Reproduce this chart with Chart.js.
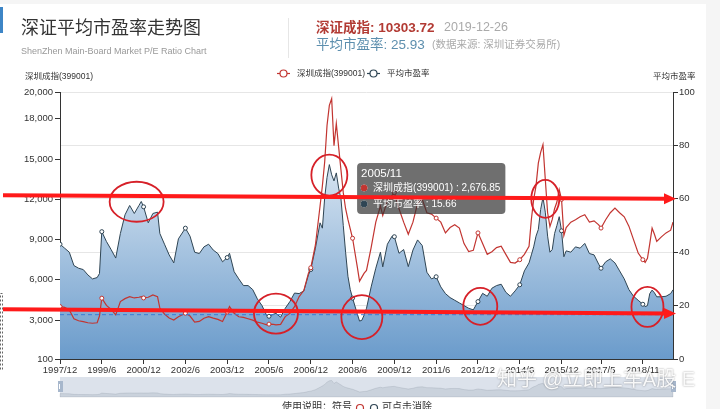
<!DOCTYPE html>
<html>
<head>
<meta charset="utf-8">
<title>深证平均市盈率走势图</title>
<style>
  html, body { margin: 0; padding: 0; background: #f5f5f5; }
  canvas { display: block; }
</style>
</head>
<body>
<canvas id="peChart" width="720" height="409"></canvas>
<script src="https://cdn.jsdelivr.net/npm/chart.js@4.4.1/dist/chart.umd.min.js"></script>
<script>
const dates = [
  '1997/12','1998/2','1998/4','1998/6','1998/8','1998/10','1998/12','1999/2','1999/4','1999/5','1999/6','1999/8','1999/10','1999/12',
  '2000/2','2000/4','2000/6','2000/8','2000/10','2000/11','2000/12','2001/2','2001/4','2001/6','2001/7','2001/9','2001/11',
  '2002/1','2002/3','2002/6','2002/8','2002/10','2002/12','2003/2','2003/4','2003/6','2003/8','2003/10','2003/12',
  '2004/1','2004/3','2004/5','2004/7','2004/9','2004/11','2005/1','2005/3','2005/5','2005/6','2005/8','2005/9','2005/11',
  '2006/1','2006/3','2006/5','2006/7','2006/9','2006/11','2006/12','2007/2','2007/4','2007/5','2007/6','2007/7','2007/8',
  '2007/9','2007/10','2007/11','2007/12','2008/1','2008/2','2008/3','2008/4','2008/5','2008/6','2008/8','2008/9','2008/10',
  '2008/11','2008/12','2009/2','2009/4','2009/6','2009/7','2009/9','2009/11','2009/12','2010/2','2010/4','2010/6','2010/8',
  '2010/10','2010/12','2011/2','2011/4','2011/6','2011/8','2011/10','2011/12','2012/2','2012/4','2012/6','2012/8','2012/10',
  '2012/12','2013/2','2013/4','2013/6','2013/8','2013/10','2013/12','2014/2','2014/4','2014/6','2014/8','2014/10','2014/11',
  '2014/12','2015/1','2015/2','2015/3','2015/4','2015/5','2015/6','2015/7','2015/8','2015/9','2015/10','2015/11','2015/12',
  '2016/1','2016/2','2016/4','2016/6','2016/8','2016/10','2016/12','2017/2','2017/4','2017/5','2017/7','2017/9','2017/11',
  '2018/1','2018/3','2018/5','2018/7','2018/9','2018/11','2018/12','2019/1','2019/2','2019/3','2019/4','2019/5','2019/7',
  '2019/9','2019/11','2019/12'
];

const szValues = [
  4006, 3950, 3760, 3100, 2950, 2880, 2800, 2765, 2800, 3300, 4633, 4100, 3800, 3386,
  4380, 4600, 4750, 4650, 4700, 4753, 4650, 4700, 4880, 4750, 3900, 3450, 3150,
  3000, 3250, 3511, 3300, 2850, 2900, 3138, 3260, 3150, 3050, 2889, 3600,
  4006, 3511, 3250, 3200, 3100, 3000, 2850, 2765, 2640, 2700, 2680, 2640, 2676.85,
  3260, 3500, 4000, 4753, 5200, 6500, 6900, 8600, 11500, 13000, 14800, 17500, 19000,
  19500, 16000, 17650, 15900, 14200, 12500, 11300, 10500, 9800, 9100, 7000, 5900, 6200,
  6500, 6700, 8400, 10300, 11500, 10800, 11900, 12300, 12500, 11300, 10300, 9400, 10300,
  11700, 12000, 11000, 10900, 10600, 10300, 9500, 9900, 10100, 9859, 8700, 8113, 8200,
  9500, 8700, 7900, 8100, 8400, 8500, 7900, 7300, 7250, 7500, 7900, 8500, 10500,
  12000, 13000, 14700, 15500, 16080, 13500, 11000, 9978, 10500, 11300, 11800, 12720, 12000,
  9300, 9900, 10300, 10480, 10700, 10850, 10300, 10400, 10100, 9859, 10479, 11000, 11352,
  11000, 10700, 10000, 9000, 8000, 7500, 7300, 7600, 8700, 9860, 9400, 8860, 9200,
  9500, 9700, 10303.72
];

const peValues = [
  43, 41.5, 40, 35, 34, 33.5, 31.5, 30, 30.5, 32, 47.7, 44, 41, 37.8,
  47, 54, 57.5, 54.5, 57.5, 59, 57, 51, 54.5, 55, 47, 43, 39,
  36, 45, 49, 46, 40, 39.5, 42, 43, 40.8, 39.5, 36.4, 38,
  39.6, 32.7, 30, 27.5, 27.5, 26, 22.5, 20, 16.3, 16, 16.8, 17.1, 15.66,
  19, 21.5, 24.7, 24.5, 25.5, 31.5, 33.5, 41.5, 51, 49, 60.5, 68, 72.8,
  69, 66.7, 69.7, 64, 60, 50, 40, 31, 26, 22.8, 17, 14.2, 14.5,
  16.5, 19, 27, 34, 40, 34.5, 43, 46, 45.8, 39.6, 41, 34.6, 40.8,
  44.6, 42.5, 32.5, 30, 30.8, 27, 24.5, 23, 22, 21, 20, 19, 18.4,
  21.5, 24.6, 23.5, 26.5, 27.5, 28, 25, 23.5, 25.5, 27.8, 33, 36, 39,
  42, 46, 48.5, 56, 60.5, 55, 46, 40, 41, 47, 50, 53.3, 48,
  38.3, 40.5, 40, 42, 41.5, 43.3, 39.5, 39, 35.5, 34, 36.4, 37.5, 36,
  33, 30, 26, 23.5, 22, 20.5, 19.6, 20, 24.5, 25.8, 24.8, 23.3, 23.3,
  23.5, 24.5, 25.93
];

const tickDates = ['1997/12','1999/6','2000/12','2002/6','2003/12','2005/6','2006/12','2008/6',
  '2009/12','2011/6','2012/12','2014/6','2015/12','2017/5','2018/11'];
const leftTicks = [100, 3000, 6000, 9000, 12000, 15000, 18000, 20000];
const rightTicks = [0, 20, 40, 60, 80, 100];

const tooltipDate = '2005/11';
const lastDate = '2019-12-26';
const peMarkLine = 16.6;

// hand drawn marks on the screenshot: [date, P/E, rx, ry]
const circleMarks = [
  ['2000/9', 58.9, 27, 20], ['2005/9', 17, 22, 20], ['2007/8', 68.9, 18, 20.5], ['2008/10', 15.7, 20.5, 22],
  ['2013/1', 19.7, 17, 18.5], ['2015/5', 60, 14, 19], ['2019/1', 19.5, 16, 20]
];
// [P/E at left end, P/E at arrow tip]
const arrowMarks = [[61.3, 60], [18.6, 17]];

const FONT = '"Liberation Sans", "Noto Sans CJK SC", sans-serif';
const RED = '#c23531';
const DARK = '#2f4554';

function monthIndex(d) {
  const [y, m] = d.split('/').map(Number);
  return (y - 1997) * 12 + m - 12;
}

const tickSet = new Set(tickDates);
const tipIndex = dates.indexOf(tooltipDate);

function legendItem(ctx, x, y, color, text) {
  ctx.strokeStyle = color;
  ctx.lineWidth = 1.2;
  ctx.beginPath(); ctx.moveTo(x, y); ctx.lineTo(x + 13, y); ctx.stroke();
  ctx.beginPath(); ctx.arc(x + 6.5, y, 3.5, 0, Math.PI * 2);
  ctx.fillStyle = '#fff'; ctx.fill(); ctx.stroke();
  ctx.fillStyle = '#333';
  ctx.font = '8.5px ' + FONT;
  ctx.textAlign = 'left';
  ctx.fillText(text, x + 20, y);
}

const decor = {
  id: 'decor',
  beforeDraw(chart) {
    const ctx = chart.ctx;
    ctx.save();
    ctx.fillStyle = '#f5f5f5';
    ctx.fillRect(0, 0, 720, 409);
    ctx.fillStyle = '#fff';
    ctx.fillRect(0, 4, 706, 405);
    ctx.fillStyle = '#3d85c6';
    ctx.fillRect(0, 7, 3, 26);
    ctx.setLineDash([2, 2]);
    ctx.strokeStyle = '#666';
    ctx.strokeRect(0.5, 293.5, 2, 76);
    ctx.setLineDash([]);

    ctx.textBaseline = 'middle';
    ctx.textAlign = 'left';
    ctx.fillStyle = '#333';
    ctx.font = '18px ' + FONT;
    ctx.fillText('深证平均市盈率走势图', 21, 29.5);
    ctx.fillStyle = '#999';
    ctx.font = '9px ' + FONT;
    ctx.fillText('ShenZhen Main-Board Market P/E Ratio Chart', 21, 51.5);

    ctx.strokeStyle = '#e6e6e6';
    ctx.lineWidth = 1;
    ctx.beginPath(); ctx.moveTo(288.5, 18); ctx.lineTo(288.5, 58); ctx.stroke();

    const lastSz = szValues[szValues.length - 1].toFixed(2);
    const lastPe = peValues[peValues.length - 1].toFixed(2);
    ctx.fillStyle = '#b23a33';
    ctx.font = 'bold 13.5px ' + FONT;
    ctx.fillText('深证成指: ' + lastSz, 316, 28);
    ctx.fillStyle = '#aaa';
    ctx.font = '12.5px ' + FONT;
    ctx.fillText(lastDate, 444, 28);
    ctx.fillStyle = '#5d8fae';
    ctx.font = '13.5px ' + FONT;
    ctx.fillText('平均市盈率: ' + lastPe, 316, 45);
    ctx.fillStyle = '#aaa';
    ctx.font = '10.5px ' + FONT;
    ctx.fillText('(数据来源: 深圳证券交易所)', 432, 45);

    legendItem(ctx, 277, 73.5, RED, '深圳成指(399001)');
    legendItem(ctx, 367, 73.5, DARK, '平均市盈率');

    ctx.fillStyle = '#333';
    ctx.font = '8.5px ' + FONT;
    ctx.fillText('深圳成指(399001)', 25, 77);
    ctx.fillText('平均市盈率', 653, 77);
    ctx.restore();
  },
  afterDatasetsDraw(chart) {
    const ctx = chart.ctx;
    const area = chart.chartArea;
    const y = chart.scales.y2.getPixelForValue(peMarkLine);
    ctx.save();
    ctx.strokeStyle = '#3a7bd5';
    ctx.lineWidth = 1;
    ctx.setLineDash([4, 3]);
    ctx.beginPath(); ctx.moveTo(area.left, y); ctx.lineTo(area.right, y); ctx.stroke();
    ctx.restore();
  },
  afterDraw(chart) {
    const ctx = chart.ctx;
    const xs = chart.scales.x;
    const ys = chart.scales.y2;
    const area = chart.chartArea;
    ctx.save();

    // data zoom slider with shadow of the index series
    const sTop = 377, sBot = 397;
    ctx.fillStyle = '#dce2eb';
    ctx.fillRect(area.left, sTop, area.right - area.left, sBot - sTop);
    ctx.beginPath();
    ctx.moveTo(xs.getPixelForValue(monthIndex(dates[0])), sBot);
    dates.forEach((d, i) => {
      ctx.lineTo(xs.getPixelForValue(monthIndex(d)), sBot - szValues[i] / 20000 * 17);
    });
    ctx.lineTo(xs.getPixelForValue(monthIndex(dates[dates.length - 1])), sBot);
    ctx.closePath();
    ctx.fillStyle = 'rgba(47,69,84,0.1)';
    ctx.fill();
    ctx.strokeStyle = 'rgba(47,69,84,0.2)';
    ctx.lineWidth = 0.6;
    ctx.stroke();
    ctx.fillStyle = '#a7b7cc';
    ctx.fillRect(area.left - 2, 381, 5, 11);
    ctx.fillRect(area.right - 2, 381, 5, 11);
    ctx.strokeStyle = '#fff';
    ctx.lineWidth = 1;
    [area.left, area.right].forEach(x => {
      ctx.beginPath(); ctx.moveTo(x - 0.5, 384); ctx.lineTo(x - 0.5, 389); ctx.stroke();
    });

    // usage note at the bottom
    ctx.textBaseline = 'top';
    ctx.textAlign = 'left';
    ctx.font = '10px ' + FONT;
    ctx.fillStyle = '#333';
    ctx.fillText('使用说明：符号', 282, 402);
    ctx.fillText('可点击消除', 382, 402);
    ctx.lineWidth = 1.2;
    ctx.strokeStyle = RED;
    ctx.beginPath(); ctx.arc(360, 408, 3.5, 0, Math.PI * 2); ctx.stroke();
    ctx.strokeStyle = DARK;
    ctx.beginPath(); ctx.arc(374, 408, 3.5, 0, Math.PI * 2); ctx.stroke();

    // red circles
    ctx.strokeStyle = 'rgb(214,32,40)';
    ctx.lineWidth = 1.8;
    circleMarks.forEach(([d, v, rx, ry]) => {
      ctx.beginPath();
      ctx.ellipse(xs.getPixelForValue(monthIndex(d)), ys.getPixelForValue(v), rx, ry, 0, 0, Math.PI * 2);
      ctx.stroke();
    });

    // red arrows
    ctx.strokeStyle = '#ff1a1a';
    ctx.fillStyle = '#ff1a1a';
    ctx.lineWidth = 4;
    arrowMarks.forEach(([v0, v1]) => {
      const y0 = ys.getPixelForValue(v0);
      const y1 = ys.getPixelForValue(v1);
      const x1 = area.right + 3;
      ctx.beginPath(); ctx.moveTo(3, y0); ctx.lineTo(x1 - 9, y1); ctx.stroke();
      ctx.beginPath();
      ctx.moveTo(x1, y1); ctx.lineTo(x1 - 12, y1 - 5.5); ctx.lineTo(x1 - 12, y1 + 5.5);
      ctx.closePath(); ctx.fill();
    });

    // watermark
    ctx.textBaseline = 'middle';
    ctx.font = '20px ' + FONT;
    ctx.shadowColor = 'rgba(0,0,0,0.45)';
    ctx.shadowBlur = 2;
    ctx.fillStyle = 'rgba(255,255,255,0.92)';
    ctx.fillText('知乎 @立即上车A股 E', 497, 380);
    ctx.restore();
  }
};

const tooltipPlugin = Chart.registry.getPlugin('tooltip');
tooltipPlugin.positioners.pinned = function (items) {
  if (!items.length) return false;
  const el = items[0].element;
  return { x: el.x + 80.5, y: this.chart.chartArea.top + 69 };
};

const colors = [RED, DARK];

const chart = new Chart(document.getElementById('peChart'), {
  type: 'line',
  data: {
    datasets: [
      {
        label: '深圳成指(399001)',
        data: dates.map((d, i) => ({ x: monthIndex(d), y: szValues[i] })),
        yAxisID: 'y',
        borderColor: RED,
        borderWidth: 1.2,
        fill: false,
        pointRadius: ctx => tickSet.has(dates[ctx.dataIndex]) ? 2 : 0,
        pointBackgroundColor: '#fff',
        pointBorderColor: RED,
        pointBorderWidth: 1
      },
      {
        label: '平均市盈率',
        data: dates.map((d, i) => ({ x: monthIndex(d), y: peValues[i] })),
        yAxisID: 'y2',
        borderColor: DARK,
        borderWidth: 1,
        fill: 'origin',
        backgroundColor: ctx => {
          const area = ctx.chart.chartArea;
          if (!area) return 'rgba(106,155,203,0.6)';
          const g = ctx.chart.ctx.createLinearGradient(0, area.top, 0, area.bottom);
          g.addColorStop(0, '#ffffff');
          g.addColorStop(1, '#6a9bcb');
          return g;
        },
        pointRadius: ctx => tickSet.has(dates[ctx.dataIndex]) ? 2 : 0,
        pointBackgroundColor: '#fff',
        pointBorderColor: DARK,
        pointBorderWidth: 1
      }
    ]
  },
  options: {
    responsive: false,
    animation: false,
    events: [],
    layout: { padding: { top: 92, left: 0, right: 0, bottom: 0 } },
    elements: { line: { tension: 0 } },
    plugins: {
      legend: { display: false },
      title: { display: false },
      tooltip: {
        enabled: true,
        position: 'pinned',
        xAlign: 'left',
        yAlign: 'top',
        caretSize: 0,
        cornerRadius: 4,
        backgroundColor: 'rgba(50,50,50,0.7)',
        titleColor: '#fff',
        bodyColor: '#fff',
        titleFont: { family: FONT, size: 11.5, weight: 'normal', lineHeight: 1.3 },
        bodyFont: { family: FONT, size: 10, lineHeight: 1.4 },
        titleMarginBottom: 0,
        bodySpacing: 2,
        padding: { top: 3, bottom: 3, left: 4, right: 5 },
        usePointStyle: true,
        boxWidth: 6,
        boxHeight: 6,
        boxPadding: 4,
        callbacks: {
          title: items => dates[items[0].dataIndex],
          label: c => c.dataset.label + ' : ' + c.parsed.y.toLocaleString('en-US', { minimumFractionDigits: 2, maximumFractionDigits: 2 }),
          labelColor: c => ({ borderColor: colors[c.datasetIndex], backgroundColor: colors[c.datasetIndex] }),
          labelPointStyle: () => ({ pointStyle: 'circle', rotation: 0 })
        }
      }
    },
    scales: {
      x: {
        type: 'linear',
        min: 0,
        max: monthIndex('2019/12'),
        afterBuildTicks: s => { s.ticks = tickDates.map(d => ({ value: monthIndex(d) })); },
        afterFit: s => { s.height = 50; },
        grid: { drawOnChartArea: false, tickLength: 5, color: '#333' },
        border: { color: '#333' },
        ticks: {
          autoSkip: false,
          maxRotation: 0,
          padding: 1,
          color: '#333',
          font: { family: FONT, size: 9.5 },
          callback: (v, i) => tickDates[i]
        }
      },
      y: {
        type: 'linear',
        position: 'left',
        min: 100,
        max: 20000,
        afterBuildTicks: s => { s.ticks = leftTicks.map(v => ({ value: v })); },
        afterFit: s => { s.width = 60; },
        grid: { drawOnChartArea: false, tickLength: 5, color: '#333' },
        border: { color: '#333' },
        ticks: {
          padding: 2,
          color: '#333',
          font: { family: FONT, size: 9.5 },
          callback: v => v.toLocaleString('en-US')
        }
      },
      y2: {
        type: 'linear',
        position: 'right',
        min: 0,
        max: 100,
        afterBuildTicks: s => { s.ticks = rightTicks.map(v => ({ value: v })); },
        afterFit: s => { s.width = 47; },
        grid: { color: '#e6e6e6', tickColor: '#333', tickLength: 5 },
        border: { color: '#333' },
        ticks: {
          padding: 1,
          color: '#333',
          font: { family: FONT, size: 9.5 }
        }
      }
    }
  },
  plugins: [decor]
});

chart.tooltip.setActiveElements(
  [{ datasetIndex: 0, index: tipIndex }, { datasetIndex: 1, index: tipIndex }],
  { x: 0, y: 0 }
);
chart.update();
</script>
</body>
</html>
